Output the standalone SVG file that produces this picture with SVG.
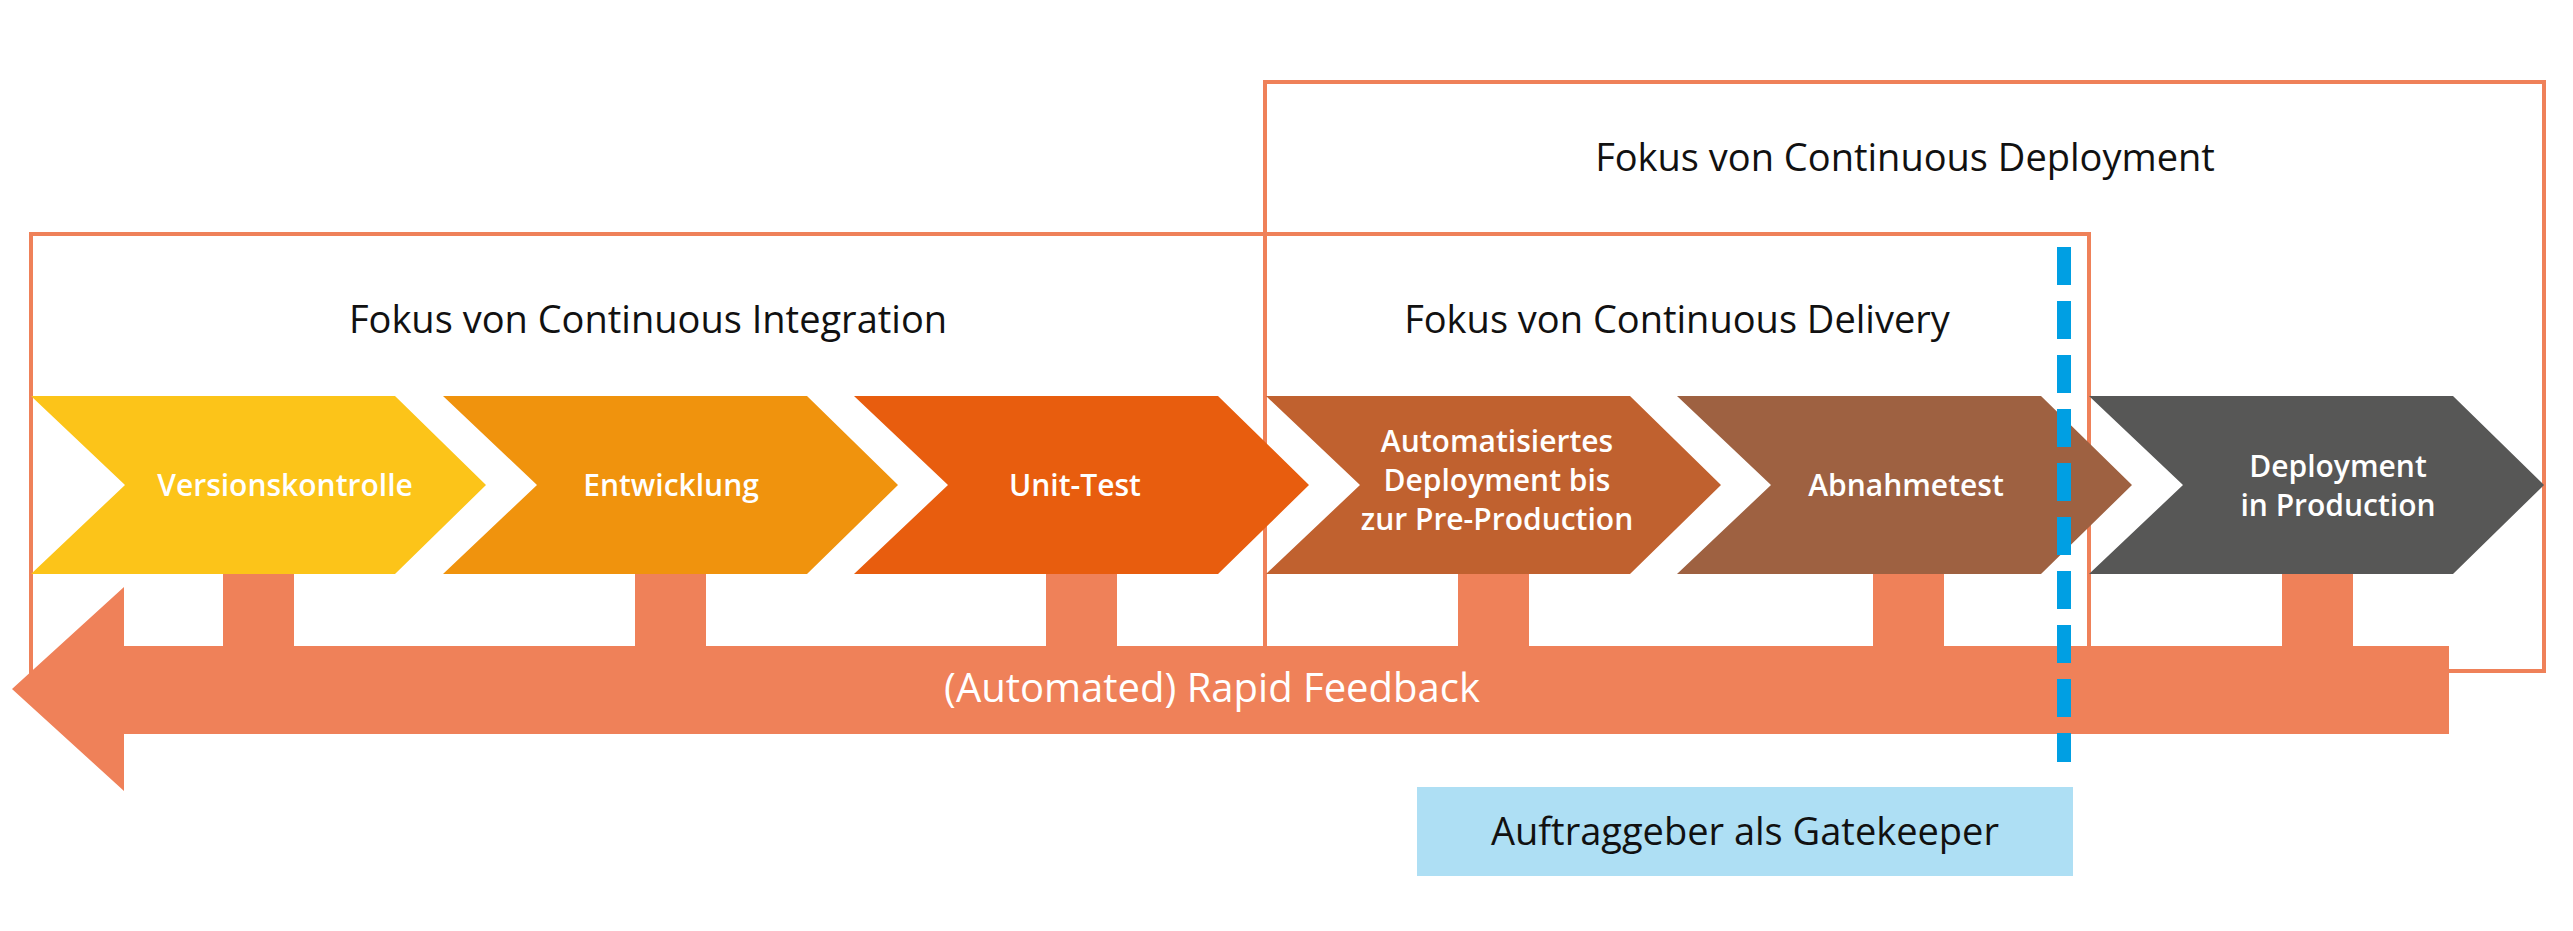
<svg xmlns="http://www.w3.org/2000/svg" width="2573" height="931" viewBox="0 0 2573 931">
<style>
.frame{fill:none;stroke:#EF8159;stroke-width:4}
.title{font-family:"Open Sans","Liberation Sans",sans-serif;font-size:38px;fill:#111;text-anchor:middle;font-weight:500}
.lbl{font-family:"Open Sans","Liberation Sans",sans-serif;font-size:30px;fill:#fff;text-anchor:middle;font-weight:600}
.fb{fill:#EF8159}
</style>
<rect width="2573" height="931" fill="#fff"/>
<g id="frames">
<rect class="frame" x="1265" y="82" width="1279" height="589"/>
<rect class="frame" x="31" y="234" width="2058" height="442"/>
<line class="frame" x1="1265" y1="234" x2="1265" y2="676"/>
<text class="title" x="1905" y="171">Fokus von Continuous Deployment</text>
<text class="title" x="648" y="333">Fokus von Continuous Integration</text>
<text class="title" x="1677" y="333">Fokus von Continuous Delivery</text>
</g>
<g id="feedback">
<rect class="fb" x="223" y="572" width="71" height="76"/>
<rect class="fb" x="635" y="572" width="71" height="76"/>
<rect class="fb" x="1046" y="572" width="71" height="76"/>
<rect class="fb" x="1458" y="572" width="71" height="76"/>
<rect class="fb" x="1873" y="572" width="71" height="76"/>
<rect class="fb" x="2282" y="572" width="71" height="76"/>
<polygon class="fb" points="2449,646 124,646 124,587 12,689 124,791 124,734 2449,734"/>
<text class="lbl" x="1212" y="702" style="font-size:40px;font-weight:500">(Automated) Rapid Feedback</text>
</g>
<g id="n1"><polygon fill="#FCC419" points="31,396 395,396 486,485 395,574 31,574 125,485"/><text class="lbl" x="285" y="496">Versionskontrolle</text></g>
<g id="n2"><polygon fill="#F0930D" points="443,396 807,396 898,485 807,574 443,574 537,485"/><text class="lbl" x="671" y="496">Entwicklung</text></g>
<g id="n3"><polygon fill="#E85D0E" points="854,396 1218,396 1309,485 1218,574 854,574 948,485"/><text class="lbl" x="1075" y="496">Unit-Test</text></g>
<g id="n4"><polygon fill="#C0612F" points="1266,396 1630,396 1721,485 1630,574 1266,574 1360,485"/><text class="lbl" x="1497" y="452">Automatisiertes</text><text class="lbl" x="1497" y="491">Deployment bis</text><text class="lbl" x="1497" y="530">zur Pre-Production</text></g>
<g id="n5"><polygon fill="#9E6141" points="1677,396 2041,396 2132,485 2041,574 1677,574 1771,485"/><text class="lbl" x="1906" y="496">Abnahmetest</text></g>
<g id="n6"><polygon fill="#575756" points="2089,396 2453,396 2544,485 2453,574 2089,574 2183,485"/><text class="lbl" x="2338" y="477">Deployment</text><text class="lbl" x="2338" y="516">in Production</text></g>
<g id="gate">
<line x1="2064" y1="247" x2="2064" y2="762" stroke="#009FE3" stroke-width="14" stroke-dasharray="38 16"/>
</g>
<g id="gatekeeper">
<rect x="1417" y="787" width="656" height="89" fill="#AEDFF4"/>
<text class="title" x="1745" y="845">Auftraggeber als Gatekeeper</text>
</g>
</svg>
